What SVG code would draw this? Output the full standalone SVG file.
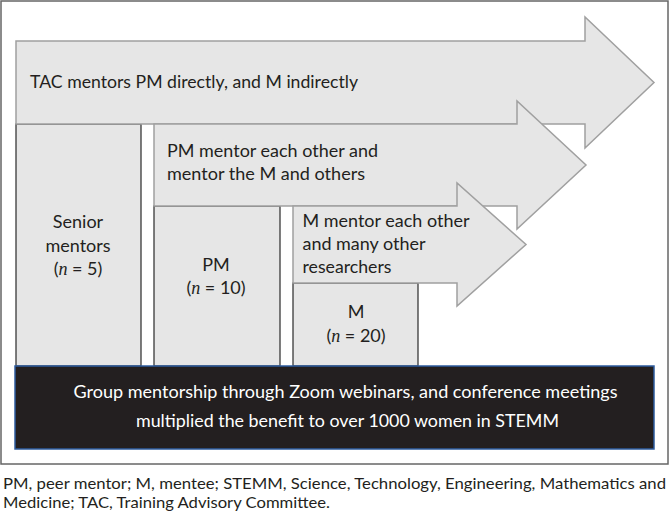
<svg xmlns="http://www.w3.org/2000/svg" width="670" height="514" viewBox="0 0 670 514">
<style>
.arrow{fill:#e6e6e6;stroke:#a0a0a0;stroke-width:1.5;stroke-linejoin:miter}
.box{fill:#e6e6e6;stroke:#3a3a3a;stroke-width:1.3}
.t{font-family:Lato,"Liberation Sans",sans-serif;font-size:18px;fill:#231f20}
.w{font-family:Lato,"Liberation Sans",sans-serif;font-size:18px;fill:#ffffff}
.cap{font-family:Lato,"Liberation Sans",sans-serif;font-size:16px;fill:#231f20}
.c{text-anchor:middle}
.n{font-family:"Liberation Serif",serif;font-style:italic}
</style>
<rect x="1" y="1" width="667" height="463" fill="#ffffff" stroke="#666666" stroke-width="1.5"/>
<g id="senior">
<rect class="box" x="16" y="124" width="125" height="242"/>
<text class="t c" x="78" y="228">Senior</text>
<text class="t c" x="78" y="252">mentors</text>
<text class="t c" x="78" y="275">(<tspan class="n">n</tspan> = 5)</text>
</g>
<g id="pm">
<rect class="box" x="154" y="206" width="126" height="160"/>
<text class="t c" x="216" y="271">PM</text>
<text class="t c" x="216" y="294">(<tspan class="n">n</tspan> = 10)</text>
</g>
<g id="m">
<rect class="box" x="293" y="283" width="125" height="83"/>
<text class="t c" x="356" y="318">M</text>
<text class="t c" x="356" y="342">(<tspan class="n">n</tspan> = 20)</text>
</g>
<g id="connectors">
<g id="arrow-tac">
<polygon class="arrow" points="16,41 585,41 585,17 654,82.5 585,148 585,124 16,124"/>
<text class="t" x="30" y="88" textLength="328" lengthAdjust="spacingAndGlyphs">TAC mentors PM directly, and M indirectly</text>
</g>
<g id="arrow-pm">
<polygon class="arrow" points="154,124 517,124 517,101 586,165 517,229 517,206 154,206"/>
<text class="t" x="167" y="157" textLength="211" lengthAdjust="spacingAndGlyphs">PM mentor each other and</text>
<text class="t" x="167" y="180" textLength="198" lengthAdjust="spacingAndGlyphs">mentor the M and others</text>
</g>
<g id="arrow-m">
<polygon class="arrow" points="293,206 457,206 457,183 526,244.5 457,306 457,283 293,283"/>
<text class="t" x="302.5" y="227" textLength="167" lengthAdjust="spacingAndGlyphs">M mentor each other</text>
<text class="t" x="302.5" y="250" textLength="123" lengthAdjust="spacingAndGlyphs">and many other</text>
<text class="t" x="302.5" y="273" textLength="89" lengthAdjust="spacingAndGlyphs">researchers</text>
</g>
</g>
<g id="group">
<rect x="15" y="366" width="639" height="83" fill="#231f20" stroke="#2e5c9e" stroke-width="1.5"/>
<text class="w" x="73.5" y="398" textLength="544" lengthAdjust="spacingAndGlyphs">Group mentorship through Zoom webinars, and conference meetings</text>
<text class="w" x="136" y="427" textLength="423" lengthAdjust="spacingAndGlyphs">multiplied the benefit to over 1000 women in STEMM</text>
</g>
<g id="caption">
<text class="cap" x="3" y="489" textLength="663" lengthAdjust="spacingAndGlyphs">PM, peer mentor; M, mentee; STEMM, Science, Technology, Engineering, Mathematics and</text>
<text class="cap" x="3" y="508" textLength="327" lengthAdjust="spacingAndGlyphs">Medicine; TAC, Training Advisory Committee.</text>
</g>
</svg>
